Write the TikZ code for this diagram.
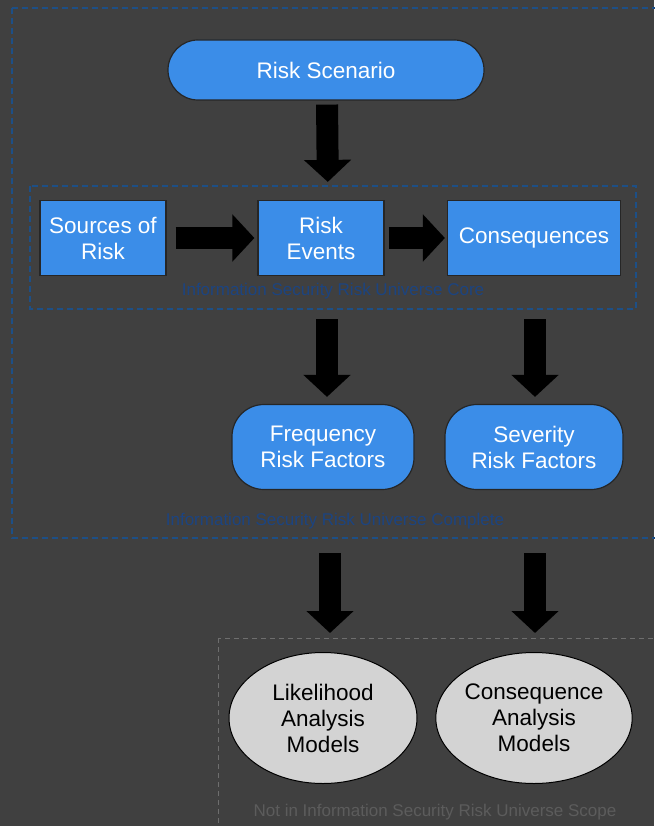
\documentclass[tikz,border=0pt]{standalone}
\usepackage{fontspec}
\setmainfont{Liberation Sans}
\usetikzlibrary{arrows.meta,shapes.geometric}
\definecolor{bgcol}{HTML}{404040}
\definecolor{boxblue}{HTML}{3B8DE8}
\definecolor{dashblue}{HTML}{1D4F86}
\definecolor{labelblue}{HTML}{1C4480}
\definecolor{scopegray}{HTML}{6E6E6E}
\definecolor{modelgray}{HTML}{D3D3D3}
\tikzset{
  bigtext/.style={font=\fontsize{22.5}{26}\selectfont, align=center},
  bluebox/.style={bigtext, draw=black!85, line width=1.2pt, fill=boxblue, text=white, minimum width=126pt, minimum height=75pt, inner sep=2pt},
  bluepill/.style={bigtext, draw=black!85, line width=1.2pt, fill=boxblue, text=white, inner sep=2pt},
  model/.style={ellipse, bigtext, draw=black, line width=1pt, fill=modelgray, text=black, inner sep=0pt},
  bigarrow/.style={line width=22pt, -{Triangle[width=46pt,length=22pt]}},
  scopelabel/.style={font=\fontsize{17}{19}\selectfont, text=labelblue},
}
\begin{document}
\begin{tikzpicture}[x=1pt, y=-1pt]
\useasboundingbox (0,0) rectangle (654,826);
\fill[bgcol] (0,0) rectangle (654,826);

% scopes
\draw[dashblue, line width=1.5pt, dash pattern=on 6pt off 4pt] (12,8) rectangle (670,538);
\draw[dashblue, line width=1.5pt, dash pattern=on 6pt off 4pt] (30,186) rectangle (636,309);
\draw[scopegray, line width=0.8pt, dash pattern=on 5pt off 4pt] (218,638) rectangle (670,840);
\node[scopelabel] (corelbl) at (333,291) {Information Security Risk Universe Core};
\node[scopelabel] (completelbl) at (335,521) {Information Security Risk Universe Complete};
\node[font=\fontsize{17}{19}\selectfont, text=black!64] (outlbl) at (435,812) {Not in Information Security Risk Universe Scope};

% nodes
\node[bluepill, rounded corners=30pt, minimum width=316pt, minimum height=60pt] (scen) at (326,70) {Risk Scenario};
\node[bluebox] (src) at (103,238) {Sources of\\Risk};
\node[bluebox] (events) at (321,238) {Risk\\Events};
\node[bluebox, minimum width=173pt] (cons) at (534,238) {Consequences};
\node[bluepill, rounded corners=32pt, minimum width=182pt, minimum height=85pt] (freq) at (323,447) {Frequency\\Risk Factors};
\node[bluepill, rounded corners=32pt, minimum width=178pt, minimum height=85pt] (sev) at (534,447) {Severity\\Risk Factors};
\node[model, minimum width=188pt, minimum height=131pt] (like) at (323,718) {Likelihood\\Analysis\\Models};
\node[model, minimum width=194pt, minimum height=131pt] (conmod) at (534,718) {Consequence\\Analysis\\Models};

% arrows
\draw[bigarrow, shorten <=4pt, shorten >=18pt] ([xshift=1pt]scen.south) -- ([xshift=7pt]events.north);
\draw[bigarrow, shorten <=9pt, shorten >=3pt] (src) -- (events);
\draw[bigarrow, shorten <=4pt, shorten >=2pt] (events) -- (cons);
\draw[bigarrow, shorten <=43pt, shorten >=7pt] ([xshift=6pt]events.south) -- ([xshift=4pt]freq.north);
\draw[bigarrow, shorten <=43pt, shorten >=7pt] ([xshift=1pt]cons.south) -- ([xshift=1pt]sev.north);
\draw[bigarrow, shorten <=63pt, shorten >=19pt] ([xshift=7pt]freq.south) -- ([xshift=7pt]like.north);
\draw[bigarrow, shorten <=63pt, shorten >=19pt] ([xshift=1pt]sev.south) -- ([xshift=1pt]conmod.north);
\end{tikzpicture}
\end{document}
